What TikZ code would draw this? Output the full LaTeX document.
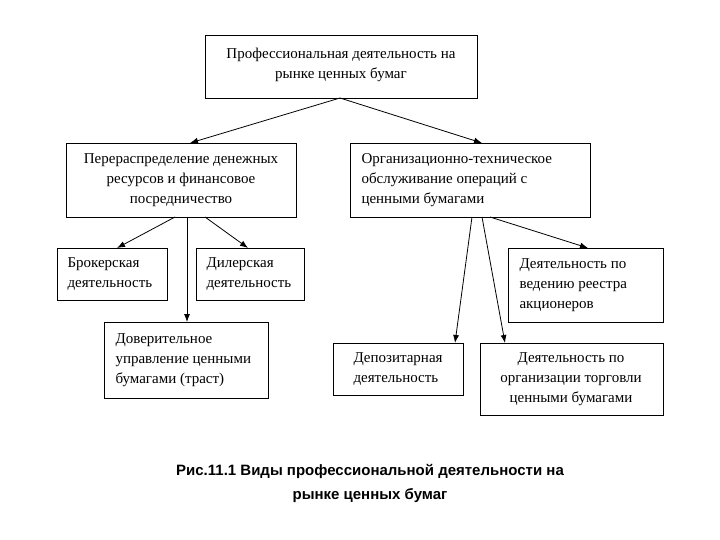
\documentclass[tikz,border=0pt]{standalone}
\usepackage{fontspec}
\setmainfont{Liberation Serif}
\newfontfamily\capfont{Liberation Sans}
\usetikzlibrary{arrows.meta}
\begin{document}
\begin{tikzpicture}[x=1pt,y=-1pt,
  box/.style={draw,line width=0.9pt,inner sep=0pt},
  txt/.style={font=\fontsize{15}{20}\selectfont,align=center},
  ltxt/.style={font=\fontsize{15}{20}\selectfont,align=left,anchor=west},
  arr/.style={-{Latex[length=8pt,width=6pt]},line width=0.8pt}]
\useasboundingbox (0,0) rectangle (720,540);
\draw[box] (205,35) rectangle (477,98);
\node[txt] (top) at (341,65) {Профессиональная деятельность на\\рынке ценных бумаг};
\draw[box] (66,143) rectangle (296,217);
\node[txt] (lm) at (181,180) {Перераспределение денежных\\ресурсов и финансовое\\посредничество};
\draw[box] (350,143) rectangle (590,217);
\node[ltxt] (rm) at (358,180) {Организационно-техническое\\обслуживание операций с\\ценными бумагами};
\draw[box] (57,248) rectangle (167,300);
\node[ltxt] (br) at (64,274) {Брокерская\\деятельность};
\draw[box] (196,248) rectangle (304,300);
\node[ltxt] (dl) at (203,274) {Дилерская\\деятельность};
\draw[box] (104,322) rectangle (268,398);
\node[ltxt] (dv) at (112,360) {Доверительное\\управление ценными\\бумагами (траст)};
\draw[box] (508,248) rectangle (663,322);
\node[ltxt] (rg) at (516,285) {Деятельность по\\ведению реестра\\акционеров};
\draw[box] (333,343) rectangle (463,395);
\node[ltxt] (dp) at (350,369) {Депозитарная\\деятельность};
\draw[box] (480,343) rectangle (663,415);
\node[txt] (ot) at (571,379) {Деятельность по\\организации торговли\\ценными бумагами};
\coordinate (t1) at (340,98);
\draw[arr] (t1) -- (190,143);
\draw[arr] (t1) -- (482,143);
\draw[arr] (175,217) -- (117,248);
\draw[arr] (205,217) -- (248,248);
\draw[arr] (187,217) -- (187,322);
\draw[arr] (472,217) -- (455,343);
\draw[arr] (482,217) -- (505,343);
\draw[arr] (490,217) -- (588,248);
\node[font=\capfont\bfseries\fontsize{15}{24}\selectfont,align=center] (cap) at (370,483) {Рис.11.1 Виды профессиональной деятельности на\\рынке ценных бумаг};
\end{tikzpicture}
\end{document}
